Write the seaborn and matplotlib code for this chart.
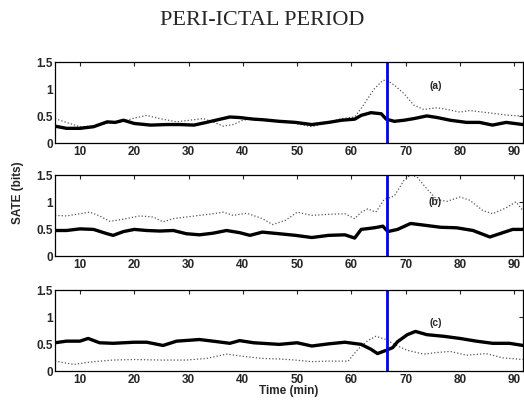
import numpy as np
import pandas as pd
import matplotlib
matplotlib.use("Agg")
import matplotlib.pyplot as plt
import seaborn as sns

# values (time in min, SATE in bits)

t_a_solid = [5.4, 7.5, 10, 12.5, 15, 16.5, 18, 20, 23, 26, 28.4, 31, 33.3, 35, 37.6, 39.4, 42,
             43.6, 46.7, 49.7, 52.7, 55.8, 58.2, 60.6, 61.8, 63.6, 65.5, 66.4, 67.9, 69.7, 71.5,
             73.9, 75.8, 78.2, 81.2, 83.6, 86, 88.5, 91.6]
v_a_solid = [0.31, 0.27, 0.27, 0.30, 0.39, 0.38, 0.42, 0.36, 0.33, 0.34, 0.34, 0.33, 0.38, 0.42,
             0.48, 0.47, 0.44, 0.43, 0.40, 0.38, 0.34, 0.38, 0.42, 0.44, 0.51, 0.56, 0.54, 0.44,
             0.40, 0.42, 0.45, 0.50, 0.47, 0.42, 0.38, 0.38, 0.33, 0.38, 0.34]
t_a_dot = [5.4, 7.5, 10, 12.5, 15, 18, 20, 22.3, 24.7, 27.8, 30.2, 32.7, 34.5, 36.4, 38.2, 40, 42,
           43.6, 46.7, 49.7, 52.7, 55.8, 58.2, 60.6, 61.8, 63, 64.2, 65.8, 66.7, 67.9, 69.7, 71.5,
           73.3, 75.8, 77.6, 80, 81.8, 84.2, 86.7, 89.1, 91.6]
v_a_dot = [0.45, 0.38, 0.30, 0.31, 0.36, 0.40, 0.46, 0.51, 0.45, 0.39, 0.42, 0.45, 0.39, 0.31,
           0.34, 0.42, 0.45, 0.42, 0.40, 0.36, 0.30, 0.38, 0.45, 0.48, 0.64, 0.82, 1.00, 1.16,
           1.15, 1.07, 0.91, 0.70, 0.62, 0.65, 0.62, 0.57, 0.60, 0.57, 0.54, 0.51, 0.50]

t_b_solid = [5.4, 7.5, 10, 12.5, 15, 16.1, 18, 20, 22.3, 24.7, 27.2, 29.6, 32, 34.5, 37, 39.4,
             41.3, 43.6, 46.7, 49.7, 52.7, 55.8, 58.8, 60.6, 61.8, 64.2, 65.8, 66.7, 68.5, 70.9,
             73.3, 76.4, 79.4, 82.4, 85.5, 87.3, 89.7, 91.6]
v_b_solid = [0.47, 0.47, 0.50, 0.49, 0.41, 0.38, 0.45, 0.49, 0.47, 0.46, 0.47, 0.41, 0.39, 0.42,
             0.47, 0.43, 0.38, 0.44, 0.41, 0.38, 0.34, 0.38, 0.39, 0.33, 0.49, 0.52, 0.55, 0.45,
             0.49, 0.60, 0.57, 0.53, 0.52, 0.47, 0.35, 0.41, 0.49, 0.49]
t_b_dot = [5.4, 7.5, 10, 11.8, 13.6, 15.5, 18, 21, 23.5, 25.3, 27.2, 29.6, 32, 34.5, 36.4, 38.2,
           40.7, 43.6, 45.5, 47.9, 50, 52.7, 55.8, 58.8, 60.6, 61.8, 63, 64.5, 66, 67.9, 69.7,
           70.9, 72.1, 73.9, 75.8, 77.6, 80, 81.8, 84.2, 86, 88.5, 90.3, 91.6]
v_b_dot = [0.75, 0.74, 0.78, 0.81, 0.74, 0.64, 0.68, 0.74, 0.72, 0.63, 0.69, 0.72, 0.75, 0.78,
           0.81, 0.75, 0.79, 0.69, 0.58, 0.66, 0.81, 0.75, 0.77, 0.78, 0.69, 0.81, 0.87, 0.81,
           1.04, 1.11, 1.40, 1.50, 1.46, 1.24, 1.04, 1.01, 1.09, 1.03, 0.84, 0.78, 0.89, 1.00, 0.84]

t_c_solid = [5.4, 7.5, 10, 11.5, 13.6, 16.1, 20, 22.3, 25.3, 27.8, 32, 34.5, 37.6, 39.4, 42,
             43.6, 46.7, 50, 52.7, 55.8, 58.8, 61.8, 63.6, 64.8, 66.4, 67.6, 68.5, 70.3, 71.8,
             73.9, 77, 80, 83, 86, 89.1, 91.6]
v_c_solid = [0.52, 0.55, 0.55, 0.60, 0.52, 0.51, 0.53, 0.53, 0.47, 0.55, 0.58, 0.55, 0.51, 0.56,
             0.52, 0.51, 0.49, 0.52, 0.46, 0.50, 0.53, 0.49, 0.40, 0.32, 0.38, 0.43, 0.54, 0.67,
             0.73, 0.67, 0.64, 0.60, 0.55, 0.51, 0.51, 0.47]
t_c_dot = [5.4, 8.8, 12.5, 16.1, 20, 24.7, 29.6, 33.3, 37, 40, 43.6, 46.7, 49.7, 52.7, 55.8, 59.4,
           61.2, 63, 64.5, 66.4, 67.9, 70.3, 73.3, 75.8, 78.2, 81.2, 84.8, 87.9, 91.6]
v_c_dot = [0.18, 0.12, 0.17, 0.20, 0.21, 0.20, 0.20, 0.23, 0.31, 0.27, 0.23, 0.22, 0.20, 0.17,
           0.18, 0.18, 0.40, 0.56, 0.64, 0.58, 0.49, 0.38, 0.31, 0.34, 0.36, 0.29, 0.32, 0.24, 0.21]

panels = [
    ("(a)", t_a_solid, v_a_solid, t_a_dot, v_a_dot, 1.07),
    ("(b)", t_b_solid, v_b_solid, t_b_dot, v_b_dot, 1.02),
    ("(c)", t_c_solid, v_c_solid, t_c_dot, v_c_dot, 0.91),
]
seizure_onset = 66.5
yticks = [0, 0.5, 1, 1.5]
yticklabels = ["0", "0.5", "1", "1.5"]
xticks = [10, 20, 30, 40, 50, 60, 70, 80, 90]

sns.set_style("white")
plt.rcParams["font.family"] = ["Liberation Sans", "DejaVu Sans"]

fig = plt.figure(figsize=(5.24, 4.02), dpi=100)
bottoms = [0.642, 0.361, 0.075]

for (label, ts, vs, td, vd, ly), b in zip(panels, bottoms):
    ax = fig.add_axes([0.105, b, 0.893, 0.2015])
    sns.lineplot(x=td, y=vd, ax=ax, color="#555555", linewidth=0.9, linestyle=":")
    sns.lineplot(x=ts, y=vs, ax=ax, color="black", linewidth=2.4)
    ax.axvline(seizure_onset, color="#0000ff", linewidth=2)
    ax.text(75.5, ly, label, fontsize=7.5, fontweight="bold", ha="center", va="center")
    ax.set_xlim(5.4, 91.6)
    ax.set_ylim(0, 1.5)
    ax.set_yticks(yticks)
    ax.set_yticklabels(yticklabels)
    ax.set_xticks(xticks)
    ax.tick_params(direction="in", top=True, right=True, length=3, width=0.8,
                   labelsize=8.5, pad=1.5)
    for lab in ax.get_xticklabels() + ax.get_yticklabels():
        lab.set_fontweight("bold")
    for sp in ax.spines.values():
        sp.set_linewidth(0.9)
        sp.set_color("black")
    ax.set_xlabel("")
    ax.set_ylabel("")
    if label == "(c)":
        ax.set_xlabel("Time (min)", fontsize=8.5, fontweight="bold", labelpad=-1)

fig.text(0.034, 0.52, "SATE (bits)", rotation=90, fontsize=8.5, fontweight="bold",
         ha="center", va="center")
fig.text(0.5, 0.95, "PERI-ICTAL PERIOD", fontsize=16, family=["Liberation Serif"],
         ha="center", va="center")

fig.savefig("out.png", dpi=100)
